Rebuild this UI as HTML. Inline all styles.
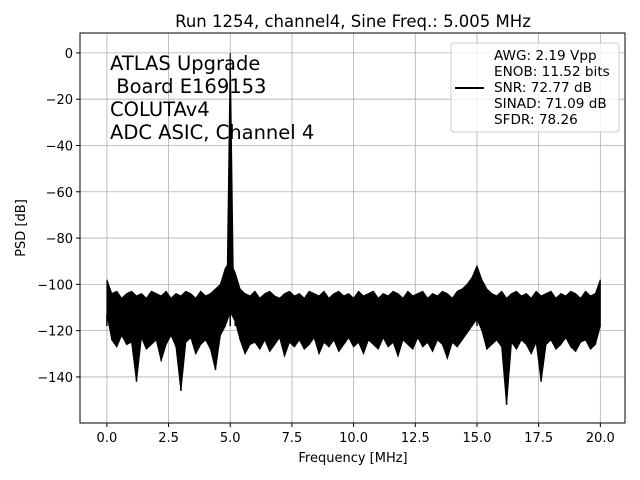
<!DOCTYPE html>
<html><head><meta charset="utf-8">
<style>
html,body{margin:0;padding:0;background:#fff;}
svg{display:block;font-family:"DejaVu Sans","Liberation Sans",sans-serif;}
</style></head>
<body>
<svg id="chart" width="640" height="480" viewBox="0 0 640 480">
<rect width="640" height="480" fill="#fff"/>
<g id="grid"></g>
<g id="series"></g>
<rect x="80" y="33" width="545" height="390" fill="none" stroke="#000" stroke-width="1"/>
<g id="ticks"></g>
<text x="353" y="27" font-size="16.5" text-anchor="middle">Run 1254, channel4, Sine Freq.: 5.005 MHz</text>
<text x="353" y="462" font-size="13" text-anchor="middle">Frequency [MHz]</text>
<text x="25" y="228" font-size="13" text-anchor="middle" transform="rotate(-90 25 228)">PSD [dB]</text>
<g font-size="19.5">
<text x="110" y="70">ATLAS Upgrade</text>
<text x="110" y="93" xml:space="preserve"> Board E169153</text>
<text x="110" y="116">COLUTAv4</text>
<text x="110" y="139">ADC ASIC, Channel 4</text>
</g>
<g>
<rect x="451" y="43" width="168" height="89" rx="3" fill="#fff" fill-opacity="0.8" stroke="#ccc"/>
<line x1="455" y1="88" x2="484" y2="88" stroke="#000" stroke-width="2"/>
<g font-size="13.6">
<text x="494" y="60">AWG: 2.19 Vpp</text>
<text x="494" y="76">ENOB: 11.52 bits</text>
<text x="494" y="92">SNR: 72.77 dB</text>
<text x="494" y="108">SINAD: 71.09 dB</text>
<text x="494" y="124">SFDR: 78.26</text>
</g>
</g>
</svg>
<script>
const xTicks = [0, 2.5, 5, 7.5, 10, 12.5, 15, 17.5, 20];
const xTickLabels = ["0.0","2.5","5.0","7.5","10.0","12.5","15.0","17.5","20.0"];
const yTicks = [0, -20, -40, -60, -80, -100, -120, -140];
const yTickLabels = ["0","\u221220","\u221240","\u221260","\u221280","\u2212100","\u2212120","\u2212140"];
const freqStep = 0.2;
const peakFreq = [5.0];
const peakLevel = [0];
const psdHigh = [
-98,-104,-103,-106,-104,-103,-105,-104,-106,-103,
-104,-105,-103,-106,-104,-105,-103,-104,-106,-103,
-105,-104,-102,-100,-93,-90,-95,-102,-104,-105,
-103,-106,-104,-103,-105,-106,-104,-103,-105,-104,
-106,-103,-104,-105,-103,-106,-104,-103,-105,-104,
-106,-103,-105,-104,-103,-106,-104,-105,-103,-104,
-106,-103,-105,-104,-103,-106,-104,-105,-103,-104,
-106,-103,-102,-100,-97,-92,-98,-102,-104,-105,
-103,-106,-104,-103,-105,-104,-106,-103,-105,-104,
-103,-106,-104,-105,-103,-104,-106,-103,-105,-104,-98];
const psdLow = [
-113,-124,-127,-122,-126,-125,-142,-123,-128,-126,
-124,-133,-126,-122,-127,-146,-125,-123,-130,-126,
-124,-128,-137,-122,-118,-112,-116,-124,-130,-126,
-125,-128,-124,-129,-126,-123,-131,-125,-127,-124,
-128,-126,-123,-130,-125,-127,-124,-129,-126,-123,
-127,-125,-130,-124,-126,-128,-123,-127,-125,-131,
-124,-126,-128,-123,-127,-125,-129,-124,-126,-132,
-125,-127,-124,-121,-118,-115,-120,-128,-126,-124,
-127,-152,-125,-128,-124,-126,-130,-125,-142,-126,
-124,-128,-126,-123,-127,-129,-125,-124,-128,-126,-118];

const X0=80, X1=625, Y0=33, Y1=423;
const xMin=-1.09, xMax=21.0, yMin=-159.9, yMax=8.6;
const xs = v => X0 + (v - xMin) / (xMax - xMin) * (X1 - X0);
const ys = v => Y1 - (v - yMin) / (yMax - yMin) * (Y1 - Y0);
const NS = "http://www.w3.org/2000/svg";
const gridG = document.getElementById("grid");
const ticksG = document.getElementById("ticks");
const seriesG = document.getElementById("series");

xTicks.forEach((t, i) => {
  const x = xs(t);
  const g = document.createElementNS(NS, "line");
  g.setAttribute("x1", x); g.setAttribute("x2", x); g.setAttribute("y1", Y0); g.setAttribute("y2", Y1);
  g.setAttribute("stroke", "#b0b0b0"); g.setAttribute("stroke-width", "0.8");
  
  
  gridG.appendChild(g);
  const tk = document.createElementNS(NS, "line");
  tk.setAttribute("x1", x); tk.setAttribute("x2", x); tk.setAttribute("y1", Y1); tk.setAttribute("y2", Y1 + 4);
  tk.setAttribute("stroke", "#000");
  
  
  ticksG.appendChild(tk);
  const tx = document.createElementNS(NS, "text");
  tx.setAttribute("x", x); tx.setAttribute("y", Y1 + 19);
  tx.setAttribute("font-size", "13"); tx.setAttribute("text-anchor", "middle");
  tx.textContent = xTickLabels[i];
  
  
  ticksG.appendChild(tx);
});
yTicks.forEach((t, i) => {
  const y = ys(t);
  const g = document.createElementNS(NS, "line");
  g.setAttribute("x1", X0); g.setAttribute("x2", X1); g.setAttribute("y1", y); g.setAttribute("y2", y);
  g.setAttribute("stroke", "#b0b0b0"); g.setAttribute("stroke-width", "0.8");
  
  
  gridG.appendChild(g);
  const tk = document.createElementNS(NS, "line");
  tk.setAttribute("x1", X0 - 4); tk.setAttribute("x2", X0); tk.setAttribute("y1", y); tk.setAttribute("y2", y);
  tk.setAttribute("stroke", "#000");
  
  
  ticksG.appendChild(tk);
  const tx = document.createElementNS(NS, "text");
  tx.setAttribute("x", X0 - 7); tx.setAttribute("y", y + 5);
  tx.setAttribute("font-size", "13"); tx.setAttribute("text-anchor", "end");
  tx.textContent = yTickLabels[i];
  
  
  ticksG.appendChild(tx);
});

let bandPath = "";
psdHigh.forEach((h, i) => {
  const f = i * freqStep;
  bandPath += (i === 0 ? "M" : "L") + xs(f).toFixed(2) + "," + ys(h).toFixed(2);
});
for (let i = psdLow.length - 1; i >= 0; i--) {
  const f = i * freqStep;
  bandPath += "L" + xs(f).toFixed(2) + "," + ys(psdLow[i]).toFixed(2);
}
bandPath += "Z";
const band = document.createElementNS(NS, "path");
band.setAttribute("d", bandPath);
band.setAttribute("fill", "#000");
band.setAttribute("stroke", "#000");
band.setAttribute("stroke-width", "1");


seriesG.appendChild(band);

let dipPath = "";
psdLow.forEach((l, i) => {
  const f = i * freqStep;
  dipPath += "M" + xs(f).toFixed(2) + "," + ys(-118).toFixed(2) + "L" + xs(f).toFixed(2) + "," + ys(l).toFixed(2);
});
const dips = document.createElementNS(NS, "path");
dips.setAttribute("d", dipPath);
dips.setAttribute("stroke", "#000");
dips.setAttribute("stroke-width", "1.5");


seriesG.appendChild(dips);

peakFreq.forEach((pf, i) => {
  const ln = document.createElementNS(NS, "path");
  const base = ys(-95), x = xs(pf);
  ln.setAttribute("d", "M" + (x - 3) + "," + base + "L" + x + "," + ys(peakLevel[i]) + "L" + (x + 3) + "," + base + "Z");
  ln.setAttribute("fill", "#000");
  ln.setAttribute("stroke", "#000");
  ln.setAttribute("stroke-width", "1");
  
  
  seriesG.appendChild(ln);
});
</script>
</body></html>
